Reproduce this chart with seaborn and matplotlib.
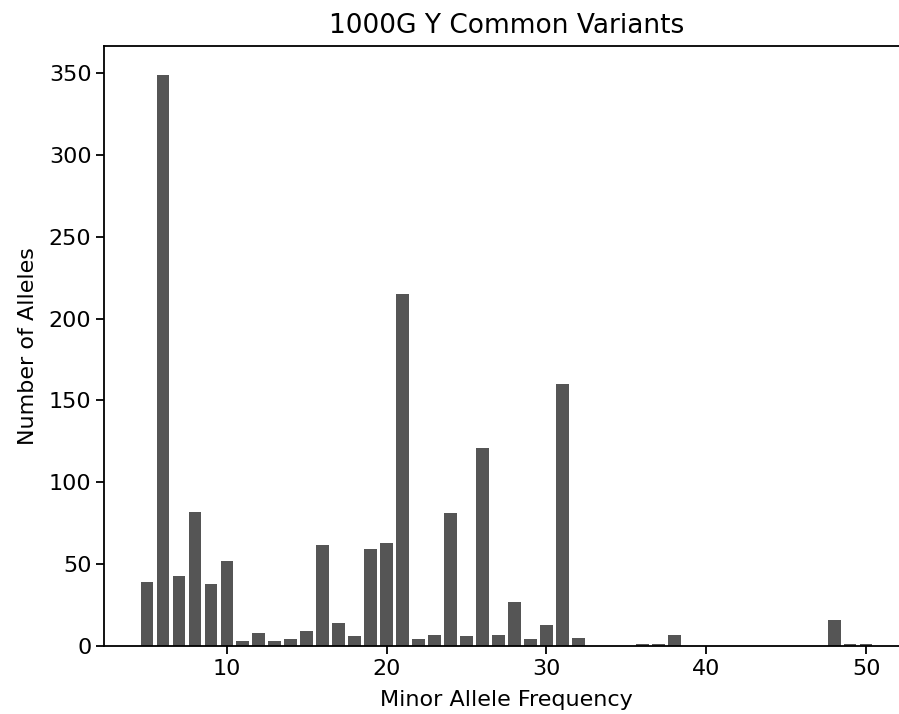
import pandas as pd
import seaborn as sns
import matplotlib
matplotlib.use('Agg')
import matplotlib.pyplot as plt

# minor allele frequency bins (percent) and allele counts
maf = list(range(5, 51))
counts = [39, 349, 43, 82, 38, 52, 3, 8, 3, 4,
          9, 62, 14, 6, 59, 63, 215, 4, 7, 81,
          6, 121, 7, 27, 4, 13, 160, 5, 0, 0,
          0, 1, 1, 7, 0, 0, 0, 0, 0, 0,
          0, 0, 0, 16, 1, 1]

title = '1000G Y Common Variants'
xlabel = 'Minor Allele Frequency'
ylabel = 'Number of Alleles'

df = pd.DataFrame({'maf': maf, 'count': counts})

# original looks like matplotlib defaults rendered at ~1.6x scale
plt.rcParams['font.family'] = ['DejaVu Sans']
plt.rcParams['xtick.labelsize'] = 16
plt.rcParams['ytick.labelsize'] = 16
plt.rcParams['axes.labelsize'] = 16
plt.rcParams['axes.titlesize'] = 19
plt.rcParams['axes.linewidth'] = 1.3
plt.rcParams['xtick.major.size'] = 5.6
plt.rcParams['ytick.major.size'] = 5.6
plt.rcParams['xtick.major.width'] = 1.3
plt.rcParams['ytick.major.width'] = 1.3

fig = plt.figure(figsize=(8.99, 7.14), dpi=100)
# right edge of the axes falls just outside the saved image, as in the reference
ax = fig.add_axes([0.1157, 0.0952, 0.8955, 0.8404])

sns.barplot(data=df, x='maf', y='count', native_scale=True, color='#555555',
            saturation=1, width=0.8, linewidth=0, ax=ax)

lo = min(maf) - 0.4
hi = max(maf) + 0.4
pad = 0.05 * (hi - lo)
ax.set_xlim(lo - pad, hi + pad)
ax.set_ylim(0, max(counts) * 1.05)
ax.set_xticks([10, 20, 30, 40, 50])
ax.set_yticks(range(0, 351, 50))

ax.set_title(title, pad=9)
ax.set_xlabel(xlabel, labelpad=8)
ax.set_ylabel(ylabel, labelpad=8)

fig.savefig('out.png', dpi=100)
plt.close(fig)
